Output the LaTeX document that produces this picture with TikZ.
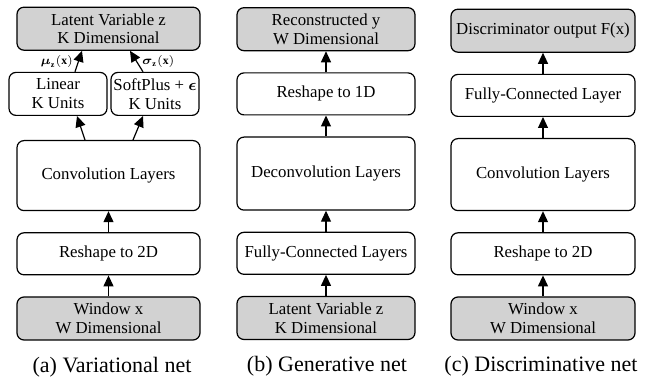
\documentclass[tikz,border=0pt]{standalone}
\usepackage{amsmath}
\usepackage{fontspec}
\setmainfont{Liberation Serif}
\usetikzlibrary{arrows.meta,positioning}

\begin{document}
\begin{tikzpicture}[x=0.5pt,y=-0.5pt,
        node distance=10.5pt,
        layer/.style={draw,rounded corners=3.5pt,line width=0.6pt,align=center,inner sep=0pt,
            font=\fontsize{8.4}{9.4}\selectfont,minimum height=21pt},
        io/.style={layer,fill=gray!35,minimum height=21.5pt},
        big/.style={layer,minimum height=36pt},
        flow/.style={-{Triangle[length=5.5pt,width=5pt]},line width=0.6pt},
        lbl/.style={font=\fontsize{5.8}{6}\selectfont,inner sep=2.5pt},
        sub/.style={font=\fontsize{11}{13}\selectfont}]
        \useasboundingbox (0,0) rectangle (650,380);

        \node[io,minimum width=91.5pt] (winA) at (108.5,318.5) {Window x\\W Dimensional};
        \node[layer,minimum width=91.5pt,above=of winA] (reshA) {Reshape to 2D};
        \node[big,minimum width=91.5pt,minimum height=35pt,above=of reshA] (convA) {Convolution Layers};
        \node[layer,minimum width=49pt,minimum height=21.5pt,above=12pt of convA,xshift=-25.25pt] (linA) {Linear\\K Units};
        \node[layer,minimum width=44pt,minimum height=21.5pt,above=12pt of convA,xshift=23.25pt] (softA) {SoftPlus + $\boldsymbol{\epsilon}$\\K Units};
        \node[io,minimum width=91.5pt,above=of linA,xshift=25.25pt] (latA) {Latent Variable z\\K Dimensional};
        \draw[flow] (winA) -- (reshA);
        \draw[flow] (reshA) -- (convA);
        \draw[flow] ([xshift=-11.75pt]convA.north) -- ([xshift=9.5pt]linA.south);
        \draw[flow] ([xshift=12.25pt]convA.north) -- ([xshift=-6pt]softA.south);
        \draw[flow] ([xshift=8.5pt]linA.north) -- node[lbl,left]{$\boldsymbol{\mu}_{\mathbf{z}}(\mathbf{x})$} ([xshift=-13.25pt]latA.south);
        \draw[flow] ([xshift=-6pt]softA.north) -- node[lbl,right]{$\boldsymbol{\sigma}_{\mathbf{z}}(\mathbf{x})$} ([xshift=10.75pt]latA.south);
        \node[sub] (capA) at (112,367) {(a) Variational net};

        \node[io,minimum width=89pt] (latB) at (326,318) {Latent Variable z\\K Dimensional};
        \node[layer,minimum width=89pt,above=of latB] (fcB) {Fully-Connected Layers};
        \node[big,minimum width=89pt,minimum height=36.5pt,above=of fcB] (deconvB) {Deconvolution Layers};
        \node[layer,minimum width=89pt,above=of deconvB] (reshB) {Reshape to 1D};
        \node[io,minimum width=89pt,above=of reshB] (recB) {Reconstructed y\\W Dimensional};
        \draw[flow] (latB) -- (fcB);
        \draw[flow] (fcB) -- (deconvB);
        \draw[flow] (deconvB) -- (reshB);
        \draw[flow] (reshB) -- (recB);
        \node[sub] (capB) at (327,366) {(b) Generative net};

        \node[io,minimum width=92pt] (winC) at (543,318.5) {Window x\\W Dimensional};
        \node[layer,minimum width=92pt,above=of winC] (reshC) {Reshape to 2D};
        \node[big,minimum width=92pt,above=of reshC] (convC) {Convolution Layers};
        \node[layer,minimum width=92pt,above=of convC] (fcC) {Fully-Connected Layer};
        \node[io,minimum width=92pt,above=of fcC] (discC) {Discriminator output F(x)};
        \draw[flow] (winC) -- (reshC);
        \draw[flow] (reshC) -- (convC);
        \draw[flow] (convC) -- (fcC);
        \draw[flow] (fcC) -- (discC);
        \node[sub] (capC) at (541,366) {(c) Discriminative net};
\end{tikzpicture}
\end{document}
